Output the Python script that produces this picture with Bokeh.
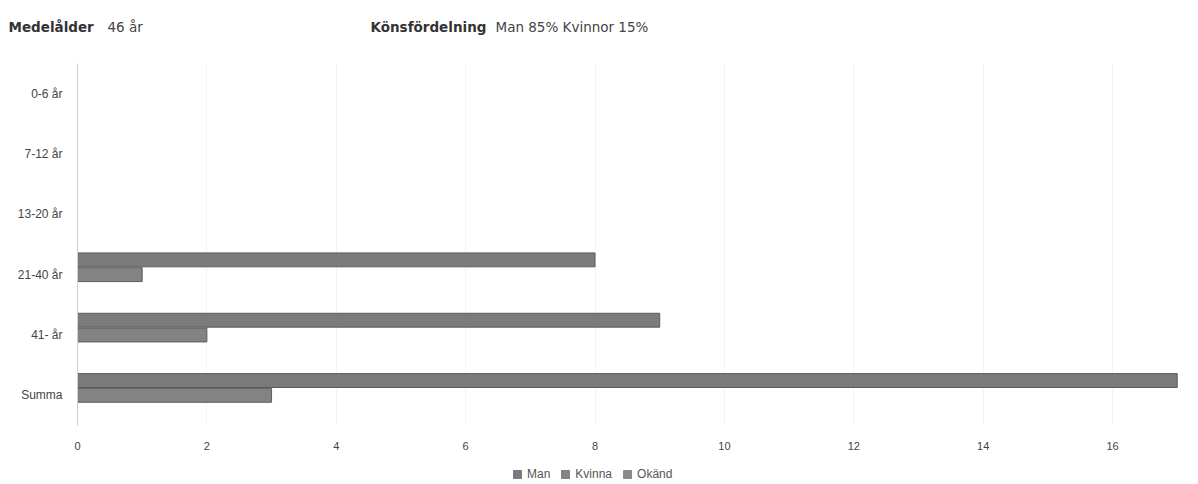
from bokeh.plotting import figure
from bokeh.models import ColumnDataSource, FactorRange, Range1d, Legend, LegendItem
from bokeh.layouts import column, row
from bokeh.transform import dodge
from bokeh.core.properties import value
from bokeh.embed import file_html
from bokeh.resources import INLINE

categories = ["0-6 år", "7-12 år", "13-20 år", "21-40 år", "41- år", "Summa"]
man = [0, 0, 0, 8, 9, 17]
kvinna = [0, 0, 0, 1, 2, 3]
okand = [0, 0, 0, 0, 0, 0]
x_ticks = [0, 2, 4, 6, 8, 10, 12, 14, 16]
series_names = ["Man", "Kvinna", "Okänd"]
title_bold = ["Medelålder", "Könsfördelning"]
title_normal = ["46 år", "Man 85% Kvinnor 15%"]

FONT = "Liberation Sans"
TFONT = "DejaVu Sans"
W = 1190
colors = ["#7b7b7b", "#838383", "#8a8a8a"]
borders = ["#5a5a5a", "#5e5e5e", "#8a8a8a"]

# --- title strip ---
top = figure(width=W, height=50, output_backend="svg", toolbar_location=None,
             x_range=Range1d(0, W), y_range=Range1d(0, 50),
             min_border=0, outline_line_color=None)
top.axis.visible = False
top.grid.visible = False
top.text(x=[8, 370], y=[24, 24], text=title_bold, text_font=value(TFONT),
         text_font_size="13.5px", text_font_style="bold", text_color="#333333",
         text_baseline="middle")
top.text(x=[107, 495], y=[24, 24], text=title_normal, text_font=value(TFONT),
         text_font_size="13.5px", text_color="#444444", text_baseline="middle")

# --- main chart ---
src = ColumnDataSource(dict(cat=categories, man=man, kvinna=kvinna, okand=okand))
p = figure(width=W, height=410, output_backend="svg", toolbar_location=None,
           y_range=FactorRange(factors=list(reversed(categories)), range_padding=0),
           x_range=Range1d(0, 17.02),
           min_border_left=77, min_border_right=12, min_border_top=13, min_border_bottom=35)
p.outline_line_color = None

h = 0.23
r_man = p.hbar(y=dodge("cat", 0.245, range=p.y_range), right="man", left=0, height=h, source=src,
               fill_color=colors[0], line_color=borders[0], line_width=1)
r_kv = p.hbar(y=dodge("cat", 0.0, range=p.y_range), right="kvinna", left=0, height=h, source=src,
              fill_color=colors[1], line_color=borders[1], line_width=1)
r_ok = p.hbar(y=dodge("cat", -0.245, range=p.y_range), right="okand", left=0, height=h, source=src,
              fill_color=colors[2], line_color=borders[2], line_width=1)

p.xaxis.ticker = x_ticks
p.xaxis.axis_line_color = None
p.xaxis.major_tick_line_color = None
p.xaxis.minor_tick_line_color = None
p.xaxis.major_label_text_font = FONT
p.xaxis.major_label_text_font_size = "11px"
p.xaxis.major_label_text_color = "#444444"
p.xaxis.major_label_standoff = 10

p.yaxis.axis_line_color = "#cfcfcf"
p.yaxis.major_tick_line_color = None
p.yaxis.minor_tick_line_color = None
p.yaxis.major_label_text_font = FONT
p.yaxis.major_label_text_font_size = "12px"
p.yaxis.major_label_text_color = "#444444"
p.yaxis.major_label_standoff = 9

p.xgrid.grid_line_color = "#f4f4f4"
p.ygrid.grid_line_color = None

# --- legend strip ---
bot = figure(width=W, height=22, output_backend="svg", toolbar_location=None,
             x_range=Range1d(0, W), y_range=Range1d(0, 22),
             min_border=0, outline_line_color=None)
bot.axis.visible = False
bot.grid.visible = False
items = []
for name, c, b in zip(series_names, colors, borders):
    r = bot.rect(x=[-1000], y=[-1000], width=1, height=1, fill_color=c, line_color=c)
    items.append(LegendItem(label=name, renderers=[r]))
legend = Legend(items=items, orientation="horizontal", location=(512, 1),
                label_text_font=FONT, label_text_font_size="12px", label_text_color="#555555",
                label_height=12, glyph_width=10, glyph_height=10, spacing=10, label_standoff=5,
                padding=0, margin=0, border_line_color=None, background_fill_alpha=0)
bot.add_layout(legend, "center")

layout = column(row(top), p, row(bot), spacing=0)
open("out.html", "w").write(file_html(layout, INLINE))
